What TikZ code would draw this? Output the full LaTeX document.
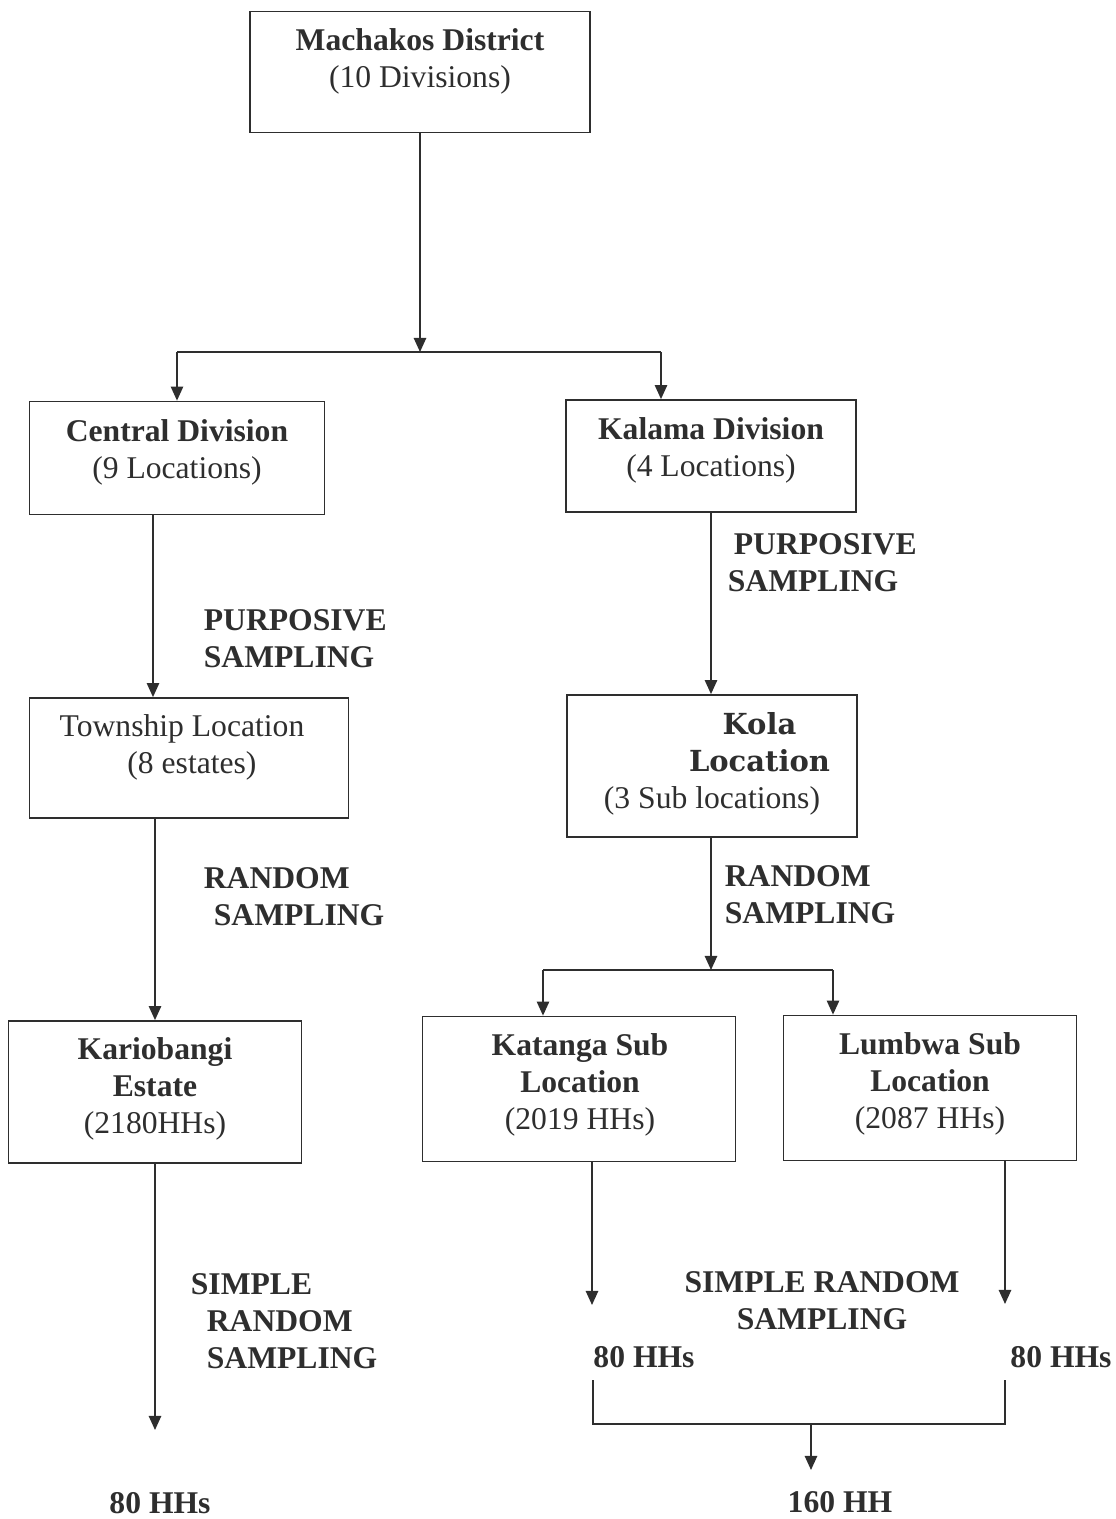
\documentclass[tikz,border=0pt]{standalone}
\usepackage{fontspec}
\setmainfont{Liberation Serif}
\newfontfamily\kolafont{DejaVu Serif}
\usetikzlibrary{arrows.meta}

\begin{document}
\begin{tikzpicture}[x=0.02cm, y=-0.02cm, line width=1pt, color=black!82,
    box/.style={draw, rectangle, inner sep=0pt},
    txt/.style={align=center, inner sep=0pt, font=\fontsize{18}{21}\selectfont},
    lbl/.style={align=left, anchor=west, inner sep=0pt, font=\fontsize{18}{21}\selectfont\bfseries},
    res/.style={inner sep=0pt, font=\fontsize{18}{21}\selectfont\bfseries},
    arr/.style={-{Triangle[width=7pt,length=8pt]}}]
    \useasboundingbox (0,0) rectangle (1116,1519);
    % district
    \node[box, minimum width=6.8cm, minimum height=2.42cm] (mach) at (420,72) {};
    \node[txt] at (420,61) {\textbf{Machakos District}\\(10 Divisions)};
    % divisions
    \node[box, minimum width=5.9cm, minimum height=2.26cm] (cen) at (177,458) {};
    \node[txt] at (177,452) {\textbf{Central Division}\\(9 Locations)};
    \node[box, minimum width=5.8cm, minimum height=2.24cm] (kal) at (711,456) {};
    \node[txt] at (711,450) {\textbf{Kalama Division}\\(4 Locations)};
    % locations
    \node[box, minimum width=6.38cm, minimum height=2.4cm] (town) at (189,758) {};
    \node[txt] at (182,747) {Township Location\\\hspace*{0.4cm}(8 estates)};
    \node[box, minimum width=5.8cm, minimum height=2.84cm] (kola) at (712,766) {};
    \node[txt] at (712,764) {\hspace*{1.9cm}{\kolafont\fontsize{16.5}{21}\selectfont\bfseries Kola}\\
        \hspace*{1.9cm}{\kolafont\fontsize{16.5}{21}\selectfont\bfseries Location}\\(3 Sub locations)};
    % estate and sub locations
    \node[box, minimum width=5.86cm, minimum height=2.84cm] (kario) at (155,1092) {};
    \node[txt] at (155,1089) {\textbf{Kariobangi}\\\textbf{Estate}\\(2180HHs)};
    \node[box, minimum width=6.26cm, minimum height=2.9cm] (kat) at (579,1089) {};
    \node[txt] at (580,1085) {\textbf{Katanga Sub}\\\textbf{Location}\\(2019 HHs)};
    \node[box, minimum width=5.86cm, minimum height=2.9cm] (lum) at (930,1088) {};
    \node[txt] at (930,1084) {\textbf{Lumbwa Sub}\\\textbf{Location}\\(2087 HHs)};
    % sampling labels
    \node[lbl] (purp1) at (203,639) {PURPOSIVE\\SAMPLING};
    \node[lbl] (purp2) at (727,563) {\hspace*{0.12cm}PURPOSIVE\\SAMPLING};
    \node[lbl] (rand1) at (203,897) {RANDOM\\\hspace*{0.2cm}SAMPLING};
    \node[lbl] (rand2) at (724,895) {RANDOM\\SAMPLING};
    \node[lbl] (simp1) at (190,1321) {SIMPLE\\\hspace*{0.32cm}RANDOM\\\hspace*{0.32cm}SAMPLING};
    \node[lbl, align=center, anchor=center] (simp2) at (822,1301) {SIMPLE RANDOM\\SAMPLING};
    % sample sizes
    \node[res] (hh1) at (160,1503) {80 HHs};
    \node[res] (hh2) at (644,1357) {80 HHs};
    \node[res] (hh3) at (1061,1357) {80 HHs};
    \node[res] (hh4) at (840,1502) {160 HH};
    % branch below district
    \coordinate (j1) at (420,352);
    \coordinate (jl) at (177,352);
    \coordinate (jr) at (661,352);
    \draw[arr] (mach.south) -- (j1);
    \draw (jl) -- (jr);
    \draw[arr] (jl) -- (jl |- cen.north);
    \draw[arr] (jr) -- (jr |- kal.north);
    % left column
    \coordinate (xa) at (153,0);
    \coordinate (xb) at (155,0);
    \coordinate (e1) at (155,1430);
    \draw[arr] (xa |- cen.south) -- (xa |- town.north);
    \draw[arr] (xb |- town.south) -- (xb |- kario.north);
    \draw[arr] (xb |- kario.south) -- (e1);
    % right column
    \coordinate (j2) at (711,970);
    \coordinate (jl2) at (543,970);
    \coordinate (jr2) at (833,970);
    \draw[arr] (kal.south) -- (kal.south |- kola.north);
    \draw[arr] (j2 |- kola.south) -- (j2);
    \draw (jl2) -- (jr2);
    \draw[arr] (jl2) -- (jl2 |- kat.north);
    \draw[arr] (jr2) -- (jr2 |- lum.north);
    % sub location samples
    \coordinate (e2) at (592,1305);
    \coordinate (e3) at (1005,1304);
    \draw[arr] (e2 |- kat.south) -- (e2);
    \draw[arr] (e3 |- lum.south) -- (e3);
    % joining bracket
    \coordinate (b1) at (593,1380);
    \coordinate (b2) at (1005,1380);
    \coordinate (b3) at (811,1424);
    \coordinate (e4) at (811,1470);
    \draw (b1) |- (b3) -| (b2);
    \draw[arr] (b3) -- (e4);
\end{tikzpicture}
\end{document}
